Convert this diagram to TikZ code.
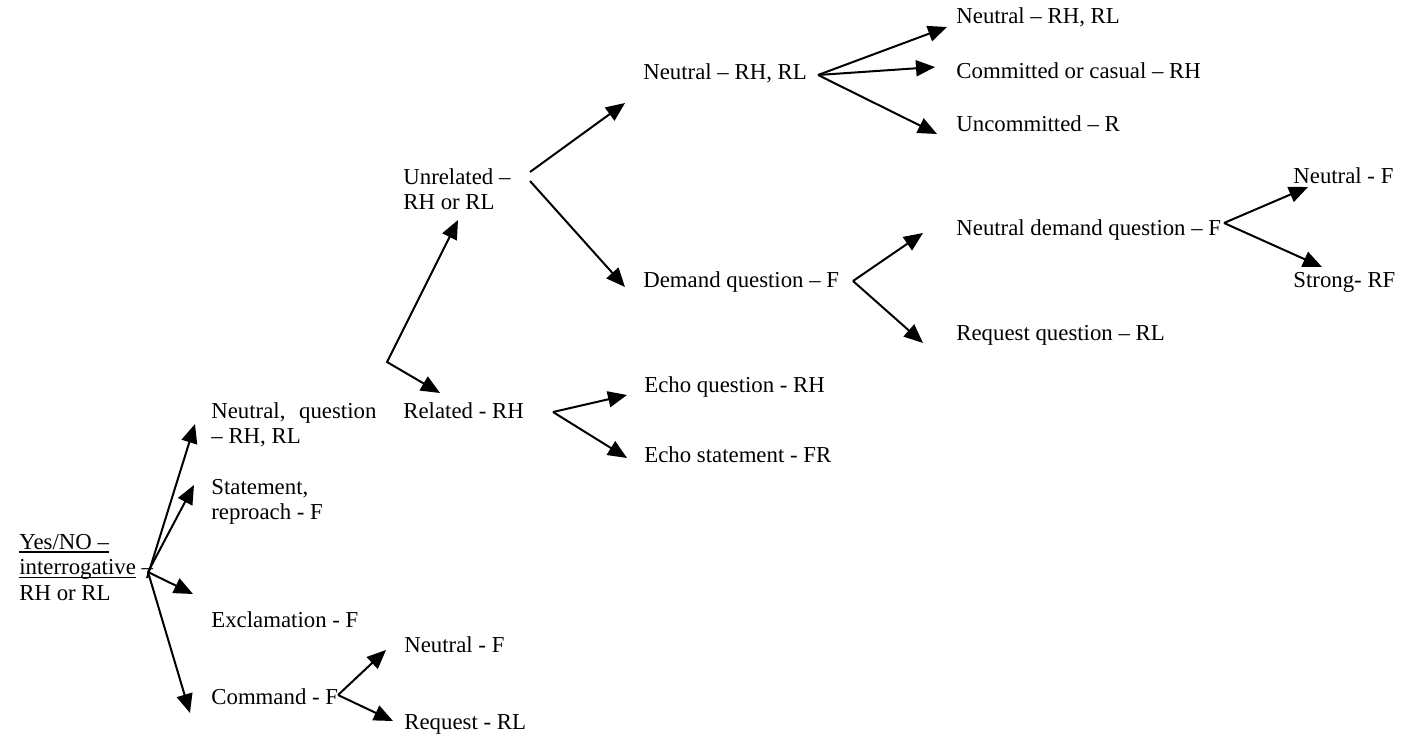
\documentclass[tikz,border=0pt]{standalone}
\usepackage{fontspec}
\setmainfont{Liberation Serif}
\usetikzlibrary{arrows.meta}
\newcommand\lns[1]{\begin{tabular}[t]{@{}l@{}}#1\end{tabular}}
\newcommand\uln[1]{\setbox0\hbox{#1}\rlap{\rule[-1.9pt]{\wd0}{0.9pt}}\box0\relax}
\begin{document}
\begin{tikzpicture}[x=0.5pt,y=-0.5pt,
  lbl/.style={anchor=base west, inner sep=0pt, font=\fontsize{11.4}{12.8}\selectfont},
  arr/.style={-{Triangle[length=9.5pt,width=8pt]}, line width=1pt},
  darr/.style={{Triangle[length=9.5pt,width=8pt]}-{Triangle[length=9.5pt,width=8pt]}, line width=1pt, line join=miter}]
\useasboundingbox (0,0) rectangle (1412,739);
% nodes
\node[lbl] (root) at (19,549) {\lns{\uln{Yes/NO –}\\\uln{interrogative} –\\RH or RL}};
\node[lbl] (nq) at (211,418) {\lns{\hbox to 82.5pt{Neutral,\hfill question}\\– RH, RL}};
\node[lbl] (st) at (211,494) {\lns{Statement,\\reproach - F}};
\node[lbl] (ex) at (211,627) {Exclamation - F};
\node[lbl] (cm) at (211,704) {Command - F};
\node[lbl] (cmn) at (404,652) {Neutral - F};
\node[lbl] (cmr) at (404,729) {Request - RL};
\node[lbl] (rel) at (403,418) {Related - RH};
\node[lbl] (unr) at (403,184) {\lns{Unrelated –\\RH or RL}};
\node[lbl] (n2) at (643,79) {Neutral – RH, RL};
\node[lbl] (eq) at (644,392) {Echo question - RH};
\node[lbl] (es) at (644,462) {Echo statement - FR};
\node[lbl] (dq) at (643,287) {Demand question – F};
\node[lbl] (n3) at (956,24) {Neutral – RH, RL};
\node[lbl] (cc) at (956,78) {Committed or casual – RH};
\node[lbl] (uc) at (956,131) {Uncommitted – R};
\node[lbl] (ndq) at (956,235) {Neutral demand question – F};
\node[lbl] (rq) at (956,340) {Request question – RL};
\node[lbl] (n4) at (1293,183) {Neutral - F};
\node[lbl] (sr) at (1293,287) {Strong- RF};
% coordinates
\coordinate (o-root) at (148,572);
\coordinate (o-root2) at (147,578);
\coordinate (t-nq) at (195,424);
\coordinate (t-st) at (194,485);
\coordinate (t-ex) at (193,594);
\coordinate (t-cm) at (190,713);
\coordinate (o-cm) at (338,695);
\coordinate (t-cmn) at (386,650);
\coordinate (t-cmr) at (393,721);
\coordinate (elb) at (387,362);
\coordinate (t-unr) at (458,220);
\coordinate (t-rel) at (440,393);
\coordinate (o-unr1) at (530,172);
\coordinate (o-unr2) at (530,181);
\coordinate (t-n2) at (625,103);
\coordinate (t-dq) at (625,287);
\coordinate (o-rel) at (553,412);
\coordinate (t-eq) at (627,395);
\coordinate (t-es) at (627,458);
\coordinate (o-n2) at (818,75);
\coordinate (t-n3) at (947,27);
\coordinate (t-cc) at (935,67);
\coordinate (t-uc) at (937,134);
\coordinate (o-dq) at (853,281);
\coordinate (t-ndq) at (923,233);
\coordinate (t-rq) at (923,343);
\coordinate (o-ndq) at (1224,223);
\coordinate (t-n4) at (1308,187);
\coordinate (t-sr) at (1322,267);
% connectors
\draw[arr] (o-root2) -- (t-nq);
\draw[arr] (o-root) -- (t-st);
\draw[arr] (o-root) -- (t-ex);
\draw[arr] (o-root) -- (t-cm);
\draw[arr] (o-cm) -- (t-cmn);
\draw[arr] (o-cm) -- (t-cmr);
\draw[darr] (t-unr) -- (elb) -- (t-rel);
\draw[arr] (o-unr1) -- (t-n2);
\draw[arr] (o-unr2) -- (t-dq);
\draw[arr] (o-rel) -- (t-eq);
\draw[arr] (o-rel) -- (t-es);
\draw[arr] (o-n2) -- (t-n3);
\draw[arr] (o-n2) -- (t-cc);
\draw[arr] (o-n2) -- (t-uc);
\draw[arr] (o-dq) -- (t-ndq);
\draw[arr] (o-dq) -- (t-rq);
\draw[arr] (o-ndq) -- (t-n4);
\draw[arr] (o-ndq) -- (t-sr);
\end{tikzpicture}
\end{document}
